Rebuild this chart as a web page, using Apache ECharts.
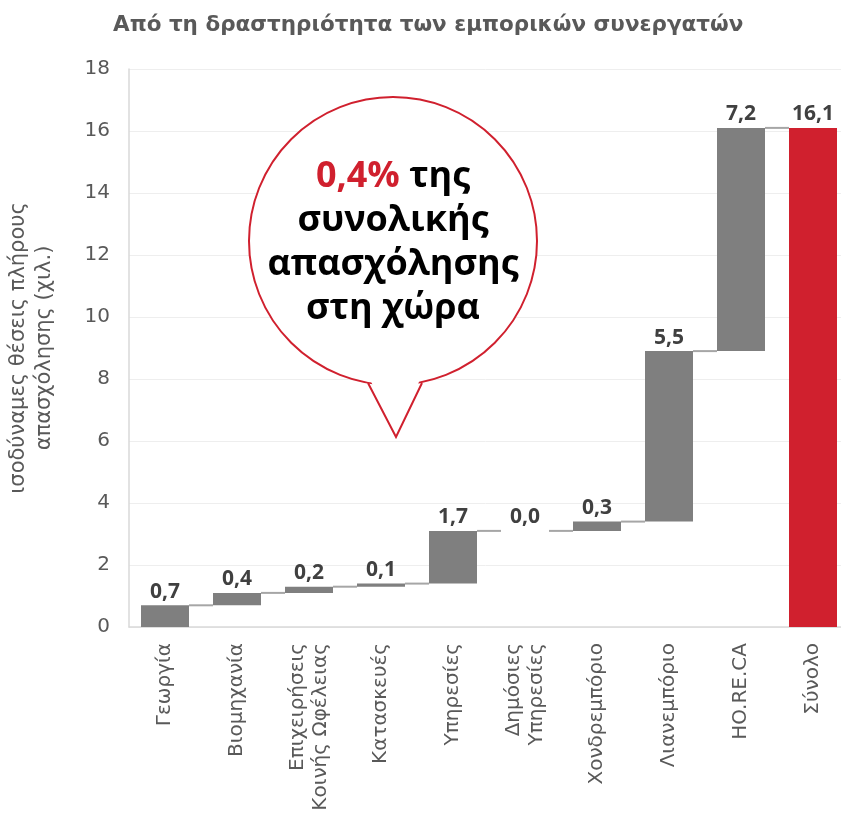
<!DOCTYPE html>
<html>
<head>
<meta charset="utf-8">
<title>Από τη δραστηριότητα των εμπορικών συνεργατών</title>
<script src="https://cdn.jsdelivr.net/npm/echarts@6.0.0/dist/echarts.min.js"></script>
<style>
  html, body { margin: 0; padding: 0; background: #ffffff; }
  #chart { width: 841px; height: 840px; }
</style>
</head>
<body>
<div id="chart"></div>
<script>
// data (χιλ. θέσεις πλήρους απασχόλησης)
let categories = [
  'Γεωργία',
  'Βιομηχανία',
  'Επιχειρήσεις\nΚοινής Ωφέλειας',
  'Κατασκευές',
  'Υπηρεσίες',
  'Δημόσιες\nΥπηρεσίες',
  'Χονδρεμπόριο',
  'Λιανεμπόριο',
  'HO.RE.CA',
  'Σύνολο'
]
let values = [0.7, 0.4, 0.2, 0.1, 1.7, 0.0, 0.3, 5.5, 7.2, 16.1]
let totalIndex = 9
let yMin = 0
let yMax = 18
let yStep = 2
let bubbleLines = ['{red|0,4%} της', 'συνολικής', 'απασχόλησης', 'στη χώρα']

let grey = '#7f7f7f'
let red = '#d0202e'
let barRatio = 2 / 3

// waterfall: invisible base + visible step, running total
let bases = []
let tops = []
let running = 0
for (let i = 0; i < values.length; i++) {
  if (i === totalIndex) {
    bases.push(0)
    tops.push(values[i])
    continue
  }
  bases.push(running)
  running = Math.round((running + values[i]) * 10) / 10
  tops.push(running)
}
// connector lines between neighbouring bars
let connectors = []
for (let i = 0; i < values.length - 1; i++) {
  connectors.push([i, tops[i]])
}

let chart = echarts.init(document.getElementById('chart'))

// speech bubble (callout)
let bx = 393
let by = 241
let br = 144
let tail = [[368, 383], [396, 437], [422, 383]]

let option = {
  animation: false,
  title: {
    text: 'Από τη δραστηριότητα των εμπορικών συνεργατών',
    left: 108,
    top: 9,
    textStyle: {
      fontFamily: 'DejaVu Sans',
      fontSize: 21.5,
      fontWeight: 'bold',
      color: '#595959'
    }
  },
  grid: {
    left: 129,
    right: -8,
    top: 69,
    bottom: 213,
    containLabel: false,
    outerBoundsMode: 'none'
  },
  xAxis: {
    type: 'category',
    data: categories,
    axisLine: { lineStyle: { color: '#d9d9d9', width: 1.5 } },
    axisTick: { show: false },
    axisLabel: {
      interval: 0,
      rotate: 90,
      margin: 16,
      fontFamily: 'DejaVu Sans',
      fontSize: 20,
      lineHeight: 23,
      color: '#595959'
    }
  },
  yAxis: {
    type: 'value',
    min: yMin,
    max: yMax,
    interval: yStep,
    name: 'ισοδύναμες θέσεις πλήρους\nαπασχόλησης (χιλ.)',
    nameLocation: 'middle',
    nameGap: 71,
    nameRotate: 90,
    nameTextStyle: {
      fontFamily: 'DejaVu Sans',
      fontSize: 21,
      lineHeight: 26,
      color: '#595959'
    },
    axisLine: { show: true, lineStyle: { color: '#d9d9d9', width: 1.5 } },
    axisTick: { show: false },
    splitLine: { lineStyle: { color: '#eeeeee' } },
    axisLabel: {
      margin: 19,
      fontFamily: 'DejaVu Sans',
      fontSize: 20,
      color: '#595959'
    }
  },
  series: [
    {
      name: 'base',
      type: 'bar',
      stack: 'wf',
      silent: true,
      barWidth: (barRatio * 100) + '%',
      itemStyle: { color: 'transparent' },
      data: bases
    },
    {
      name: 'value',
      type: 'bar',
      stack: 'wf',
      barWidth: (barRatio * 100) + '%',
      itemStyle: {
        color: function (p) {
          return p.dataIndex === totalIndex ? red : grey
        }
      },
      label: {
        show: true,
        position: 'top',
        distance: 3,
        fontFamily: 'Open Sans',
        fontSize: 21,
        fontWeight: 'bold',
        color: '#404040',
        formatter: function (p) {
          return p.value.toFixed(1).replace('.', ',')
        }
      },
      data: values
    },
    {
      name: 'connectors',
      type: 'custom',
      silent: true,
      z: 1,
      renderItem: function (params, api) {
        let i = api.value(0)
        let level = api.value(1)
        let half = api.size([1, 0])[0] * barRatio / 2
        let a = api.coord([i, level])
        let b = api.coord([i + 1, level])
        return {
          type: 'line',
          shape: { x1: a[0] + half, y1: a[1], x2: b[0] - half, y2: b[1] },
          style: { stroke: '#a6a6a6', lineWidth: 2 }
        }
      },
      data: connectors
    }
  ],
  graphic: [
    {
      type: 'circle',
      z: 100,
      shape: { cx: bx, cy: by, r: br },
      style: { fill: '#ffffff', stroke: red, lineWidth: 2 }
    },
    {
      type: 'polygon',
      z: 101,
      shape: { points: [[tail[0][0] + 1, 377], tail[1], [tail[2][0] - 1, 377]] },
      style: { fill: '#ffffff' }
    },
    {
      type: 'polyline',
      z: 102,
      shape: { points: tail },
      style: { stroke: red, lineWidth: 2, fill: null }
    },
    {
      type: 'text',
      z: 103,
      x: bx,
      y: 243,
      style: {
        text: bubbleLines.join('\n'),
        align: 'center',
        verticalAlign: 'middle',
        fontFamily: 'Open Sans',
        fontSize: 36,
        fontWeight: 'bold',
        lineHeight: 44,
        fill: '#000000',
        rich: {
          red: {
            fontFamily: 'Open Sans',
            fontSize: 36,
            fontWeight: 'bold',
            lineHeight: 44,
            fill: red
          }
        }
      }
    }
  ]
}

chart.setOption(option)
</script>
</body>
</html>
